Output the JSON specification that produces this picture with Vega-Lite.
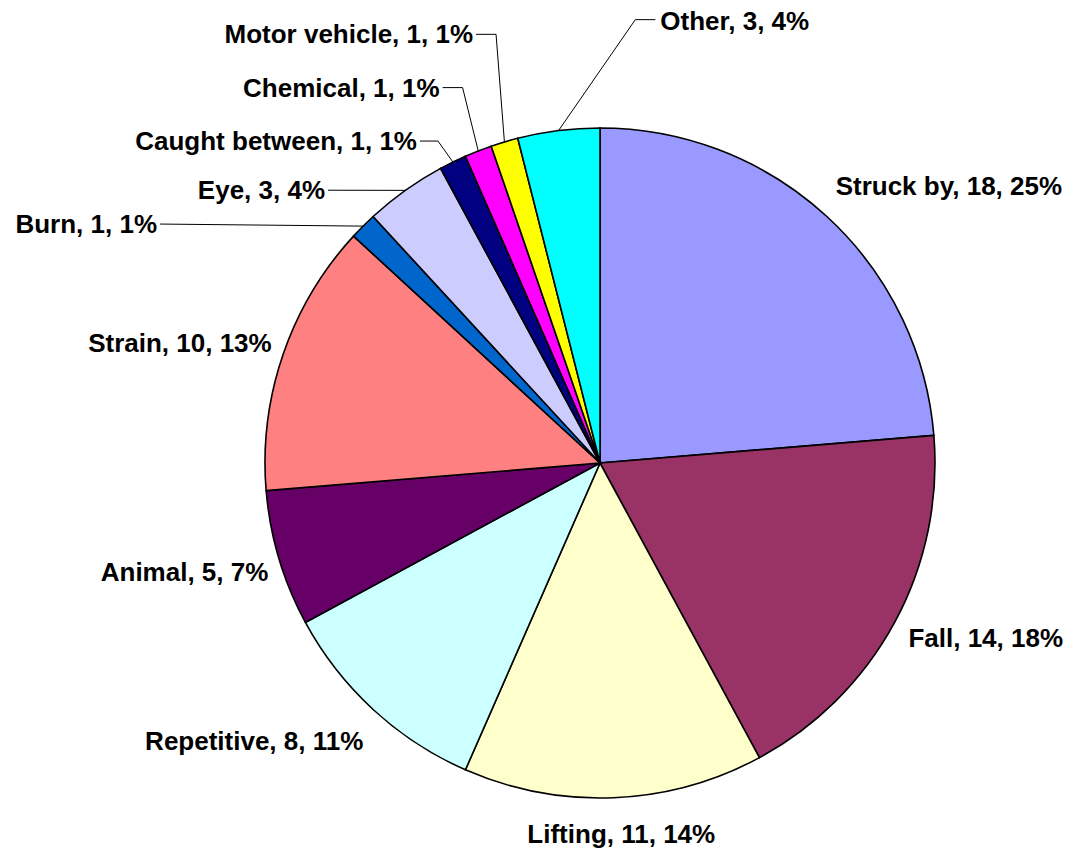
{
  "$schema": "https://vega.github.io/schema/vega-lite/v6.json",
  "width": 670,
  "height": 670,
  "autosize": {"type": "none"},
  "padding": {"left": 265, "top": 128, "right": 134, "bottom": 56},
  "background": "white",
  "view": {"stroke": null},
  "data": {
    "values": [
      {"idx": 0, "cause": "Struck by", "count": 18, "pct": 25},
      {"idx": 1, "cause": "Fall", "count": 14, "pct": 18},
      {"idx": 2, "cause": "Lifting", "count": 11, "pct": 14},
      {"idx": 3, "cause": "Repetitive", "count": 8, "pct": 11},
      {"idx": 4, "cause": "Animal", "count": 5, "pct": 7},
      {"idx": 5, "cause": "Strain", "count": 10, "pct": 13},
      {"idx": 6, "cause": "Burn", "count": 1, "pct": 1},
      {"idx": 7, "cause": "Eye", "count": 3, "pct": 4},
      {"idx": 8, "cause": "Caught between", "count": 1, "pct": 1},
      {"idx": 9, "cause": "Chemical", "count": 1, "pct": 1},
      {"idx": 10, "cause": "Motor vehicle", "count": 1, "pct": 1},
      {"idx": 11, "cause": "Other", "count": 3, "pct": 4}
    ]
  },
  "layer": [
    {
      "mark": {"type": "arc", "stroke": "black", "strokeWidth": 1.6},
      "encoding": {
        "theta": {"field": "count", "type": "quantitative", "stack": true},
        "order": {"field": "idx", "type": "quantitative", "sort": "ascending"},
        "color": {
          "field": "cause",
          "type": "nominal",
          "legend": null,
          "scale": {
            "domain": ["Struck by", "Fall", "Lifting", "Repetitive", "Animal", "Strain", "Burn", "Eye", "Caught between", "Chemical", "Motor vehicle", "Other"],
            "range": ["#9999FF", "#993366", "#FFFFCC", "#CCFFFF", "#660066", "#FF8080", "#0066CC", "#CCCCFF", "#000080", "#FF00FF", "#FFFF00", "#00FFFF"]
          }
        }
      }
    },
    {
      "transform": [
        {"window": [{"op": "sum", "field": "count", "as": "cum"}], "sort": [{"field": "idx"}], "frame": [null, 0]},
        {"joinaggregate": [{"op": "sum", "field": "count", "as": "total"}]},
        {"calculate": "(datum.cum - datum.count / 2) / datum.total * 2 * PI", "as": "mid"},
        {"calculate": "335 * sin(datum.mid)", "as": "ex"},
        {"calculate": "-335 * cos(datum.mid)", "as": "ey"},
        {"calculate": "345 * sin(datum.mid) + [2, 5, 7, -3, -1, -2, -199, -74.5, -31.5, -35, -28.5, 103][datum.idx]", "as": "lx"},
        {"calculate": "-345 * cos(datum.mid) + [-14, 20, 35, 33, 20, 1, 14, 17, -3, -45, -89, -91][datum.idx]", "as": "ly"},
        {"calculate": "datum.idx == 11 ? datum.lx - 5 : datum.lx + 3", "as": "sx"},
        {"calculate": "datum.idx == 11 ? datum.ly - 10 : datum.ly - 9", "as": "sy"},
        {"calculate": "datum.sx + [0, 0, 0, 0, 0, 0, 0, 0, 18, 20, 20, -20][datum.idx]", "as": "bx"},
        {"calculate": "datum.cause + ', ' + datum.count + ', ' + datum.pct + '%'", "as": "label"}
      ],
      "encoding": {
        "x": {"field": "lx", "type": "quantitative", "axis": null, "scale": {"domain": [-335, 335], "nice": false, "zero": false}},
        "y": {"field": "ly", "type": "quantitative", "axis": null, "scale": {"domain": [-335, 335], "nice": false, "zero": false, "reverse": true}}
      },
      "layer": [
        {
          "transform": [{"filter": "datum.idx >= 6"}],
          "mark": {"type": "rule", "stroke": "black", "strokeWidth": 1},
          "encoding": {
            "x": {"field": "sx", "type": "quantitative"},
            "y": {"field": "sy", "type": "quantitative"},
            "x2": {"field": "bx"},
            "y2": {"field": "sy"}
          }
        },
        {
          "transform": [{"filter": "datum.idx >= 6"}],
          "mark": {"type": "rule", "stroke": "black", "strokeWidth": 1},
          "encoding": {
            "x": {"field": "bx", "type": "quantitative"},
            "y": {"field": "sy", "type": "quantitative"},
            "x2": {"field": "ex"},
            "y2": {"field": "ey"}
          }
        },
        {
          "transform": [{"filter": "datum.idx == 0 || datum.idx == 1 || datum.idx == 11"}],
          "mark": {"type": "text", "align": "left", "baseline": "alphabetic", "font": "Liberation Sans", "fontWeight": "bold", "fontSize": 26, "color": "black"},
          "encoding": {"text": {"field": "label"}}
        },
        {
          "transform": [{"filter": "datum.idx == 2"}],
          "mark": {"type": "text", "align": "center", "baseline": "alphabetic", "font": "Liberation Sans", "fontWeight": "bold", "fontSize": 26, "color": "black"},
          "encoding": {"text": {"field": "label"}}
        },
        {
          "transform": [{"filter": "datum.idx >= 3 && datum.idx <= 10"}],
          "mark": {"type": "text", "align": "right", "baseline": "alphabetic", "font": "Liberation Sans", "fontWeight": "bold", "fontSize": 26, "color": "black"},
          "encoding": {"text": {"field": "label"}}
        }
      ]
    }
  ]
}
